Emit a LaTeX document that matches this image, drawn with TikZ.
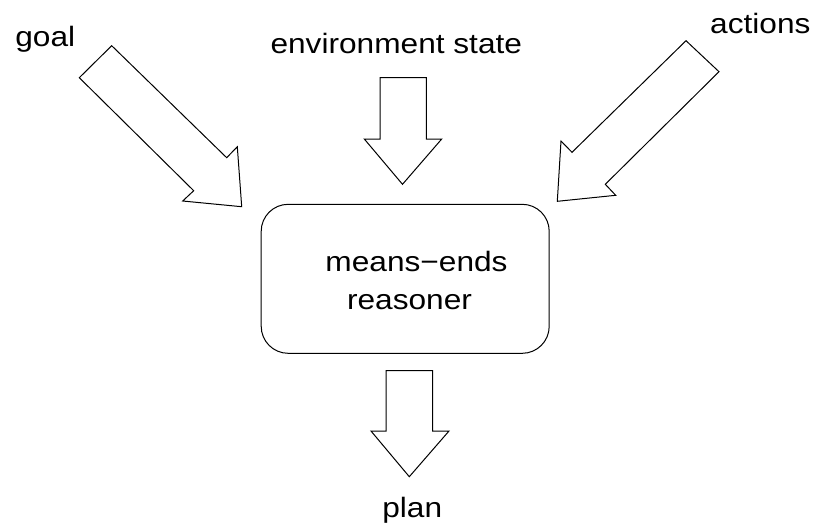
\documentclass[tikz,border=0pt]{standalone}
\usepackage{fontspec}
\setmainfont{Liberation Sans}[FakeStretch=1.13]
\begin{document}
\begin{tikzpicture}[x=1pt,y=-1pt,
  blockarrow/.style={draw=black,line width=1pt,fill=white,line join=miter},
  lbl/.style={inner sep=0pt,anchor=base,font=\fontsize{28}{38.6}\selectfont},
  box/.style={draw=black,line width=1pt,rounded corners=27pt,minimum width=288pt,minimum height=149pt,inner sep=0pt}]
\useasboundingbox (0,0) rectangle (816,523);
% box
\node[box] (reasoner) at (405.2,278.8) {};
\node[lbl,anchor=center,align=center] (reasonertext) at (409.5,280.5) {\hspace{14pt}means−ends\\reasoner};
% labels
\node[lbl] (goal) at (45.3,46.7) {goal};
\node[lbl] (env) at (396.3,53.3) {environment state};
\node[lbl] (actions) at (760.3,33.3) {actions};
\node[lbl] (plan) at (412.2,517) {plan};
% goal arrow
\draw[blockarrow] (111.7,45.7) -- (226.7,157.7) -- (237.3,146.7) -- (241.7,206.7) -- (182.7,201) -- (193.7,190.7) -- (79.3,77.7) -- cycle;
% actions arrow
\draw[blockarrow] (686,40.7) -- (719,71.7) -- (605.3,184.3) -- (615.7,195.3) -- (557.3,201.3) -- (561,141) -- (572,152.3) -- cycle;
% environment arrow
\draw[blockarrow] (380,77.7) -- (426.3,77.7) -- (426.3,139) -- (441.7,139) -- (402.5,184.3) -- (364.3,139) -- (380,139) -- cycle;
% plan arrow
\draw[blockarrow] (386,370.7) -- (432.7,370.7) -- (432.7,431) -- (449,431) -- (409.3,476.7) -- (371,431) -- (386,431) -- cycle;
\end{tikzpicture}
\end{document}
